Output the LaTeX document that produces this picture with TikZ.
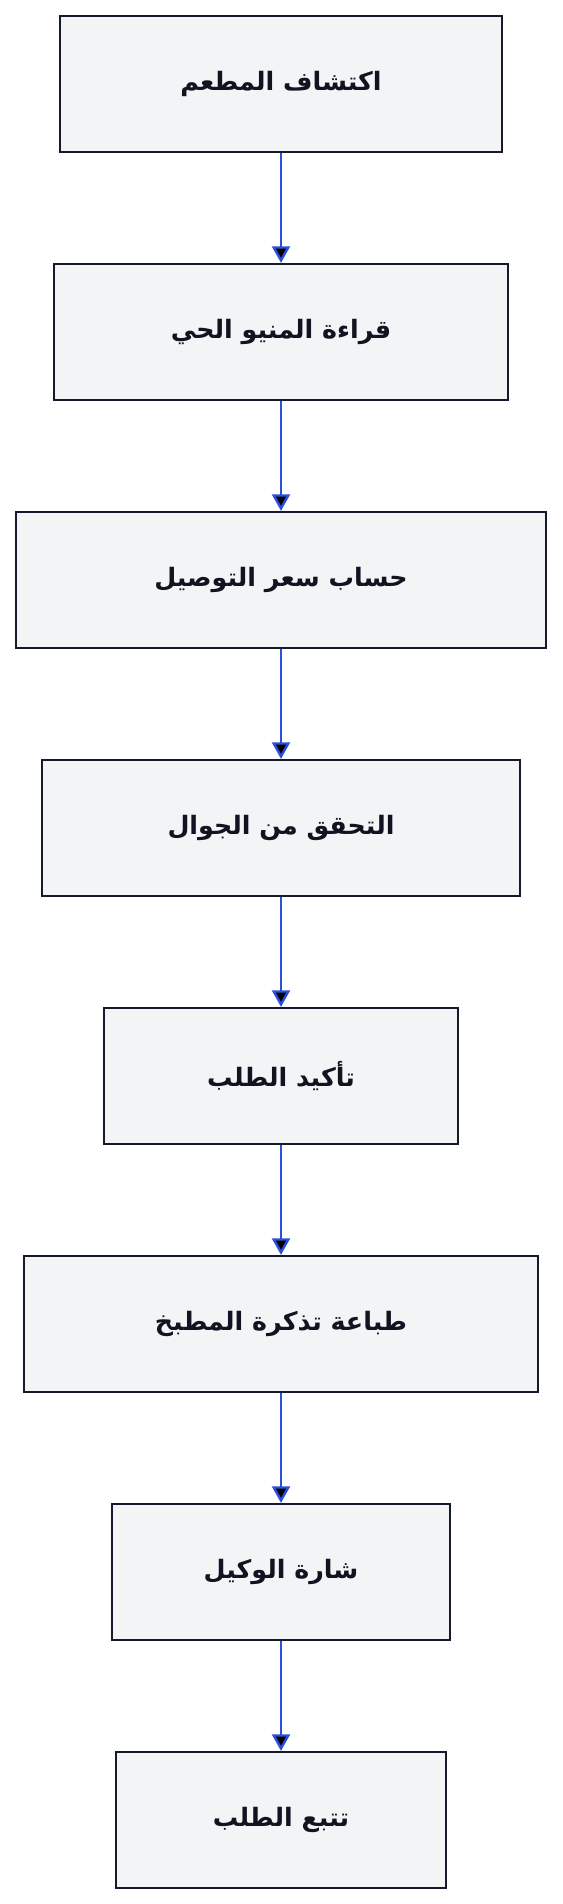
\documentclass[tikz,border=0pt]{standalone}
\usepackage{fontspec}
\usetikzlibrary{arrows.meta}
\TeXXeTstate=1
\newfontfamily\arabicfont[Script=Arabic]{DejaVu Sans}
\definecolor{boxfill}{HTML}{F3F4F6}
\definecolor{boxline}{HTML}{151B2B}
\definecolor{textink}{HTML}{0F1420}
\definecolor{flowblue}{HTML}{2B50DB}
\begin{document}
\begin{tikzpicture}[x=1pt, y=1pt,
  stepbox/.style={shape=rectangle, draw=boxline, fill=boxfill, line width=1.6pt, minimum height=102pt, text=textink, font=\arabicfont\bfseries\fontsize{19}{23}\selectfont},
  flow/.style={-{Triangle[width=13.5pt,length=12.5pt]}, line width=1.8pt, draw=flowblue}]
\useasboundingbox (0,0) rectangle (421.5,-1428);
\node[stepbox, minimum width=331.5pt] (1) at (210.75,-63) {\beginR اكتشاف المطعم\endR};
\node[stepbox, minimum width=340.5pt] (2) at (210.75,-249) {\beginR قراءة المنيو الحي\endR};
\node[stepbox, minimum width=397.5pt] (3) at (210.75,-435) {\beginR حساب سعر التوصيل\endR};
\node[stepbox, minimum width=358.5pt] (4) at (210.75,-621) {\beginR التحقق من الجوال\endR};
\node[stepbox, minimum width=266pt] (5) at (210.75,-807) {\beginR تأكيد الطلب\endR};
\node[stepbox, minimum width=386pt] (6) at (210.75,-993) {\beginR طباعة تذكرة المطبخ\endR};
\node[stepbox, minimum width=253pt] (7) at (210.75,-1179) {\beginR شارة الوكيل\endR};
\node[stepbox, minimum width=247pt] (8) at (210.75,-1365) {\beginR تتبع الطلب\endR};
\path [flow] (1) edge (2);
\path [flow] (2) edge (3);
\path [flow] (3) edge (4);
\path [flow] (4) edge (5);
\path [flow] (5) edge (6);
\path [flow] (6) edge (7);
\path [flow] (7) edge (8);
\end{tikzpicture}
\end{document}
